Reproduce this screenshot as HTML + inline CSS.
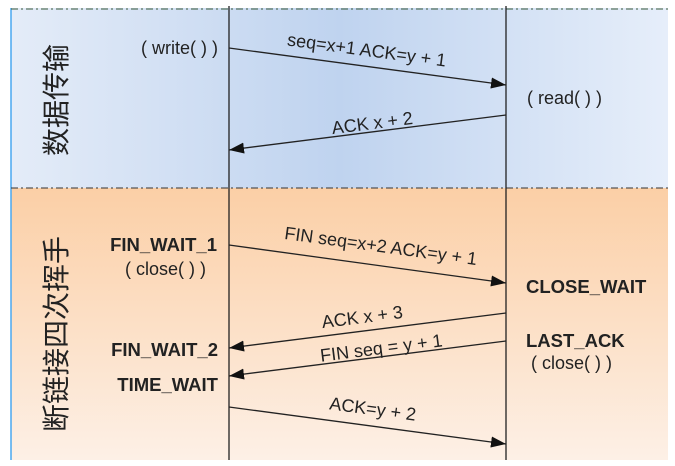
<!DOCTYPE html>
<html><head><meta charset="utf-8"><style>
html,body{margin:0;padding:0;background:#fff;}
svg{display:block;}
text{font-family:"Liberation Sans","Noto Sans CJK SC",sans-serif;fill:#222;}
</style></head><body>
<svg width="675" height="466" viewBox="0 0 675 466">
<defs>
<linearGradient id="bl" x1="0" y1="0" x2="1" y2="0">
<stop offset="0" stop-color="#e4ecf8"/><stop offset="0.5" stop-color="#bfd3ef"/><stop offset="1" stop-color="#e6eefa"/>
</linearGradient>
<linearGradient id="or" x1="0" y1="0" x2="0" y2="1">
<stop offset="0" stop-color="#fbcfa6"/><stop offset="1" stop-color="#fdf0e6"/>
</linearGradient>
<marker id="ah" markerWidth="15" markerHeight="11" refX="15" refY="5.5" orient="auto" markerUnits="userSpaceOnUse">
<path d="M0,0 L15,5.5 L0,11 z" fill="#111"/></marker>
</defs>
<rect x="11" y="8" width="657" height="180" fill="url(#bl)"/>
<rect x="11" y="188" width="657" height="272" fill="url(#or)"/>
<line x1="11" y1="8" x2="11" y2="460" stroke="#4aa8f0" stroke-width="1.5"/>
<line x1="11" y1="9" x2="668" y2="9" stroke="#3a5a3a" stroke-width="1" stroke-dasharray="7,3,2,3"/>
<line x1="11" y1="188" x2="668" y2="188" stroke="#333" stroke-width="1" stroke-dasharray="7,3,2,3"/>
<line x1="229" y1="6" x2="229" y2="460" stroke="#222" stroke-width="1.3"/>
<line x1="506" y1="6" x2="506" y2="460" stroke="#222" stroke-width="1.3"/>
<g stroke="#222" stroke-width="1.3" marker-end="url(#ah)">
<line x1="229" y1="48" x2="506" y2="85"/>
<line x1="506" y1="115" x2="229" y2="150"/>
<line x1="229" y1="245" x2="506" y2="283"/>
<line x1="506" y1="313" x2="229" y2="348"/>
<line x1="506" y1="341" x2="229" y2="376"/>
<line x1="229" y1="407" x2="506" y2="444"/>
</g>
<g font-size="18">
<text x="366" y="56" text-anchor="middle" transform="rotate(7.6 366 56)">seq=x+1 ACK=y + 1</text>
<text x="373" y="129" text-anchor="middle" transform="rotate(-7.2 373 129)">ACK x + 2</text>
<text x="380" y="252" text-anchor="middle" transform="rotate(7.8 380 252)">FIN seq=x+2 ACK=y + 1</text>
<text x="363" y="323" text-anchor="middle" transform="rotate(-7.2 363 323)">ACK x + 3</text>
<text x="382" y="354" text-anchor="middle" transform="rotate(-7.2 382 354)">FIN seq = y + 1</text>
<text x="372" y="415" text-anchor="middle" transform="rotate(7.6 372 415)">ACK=y + 2</text>
<text x="218" y="54" text-anchor="end">( write( ) )</text>
<text x="527" y="104">( read( ) )</text>
<text x="206" y="275" text-anchor="end">( close( ) )</text>
<text x="531" y="369">( close( ) )</text>
</g>
<g font-size="18.5" font-weight="bold">
<text x="217" y="251" text-anchor="end">FIN_WAIT_1</text>
<text x="218" y="356" text-anchor="end">FIN_WAIT_2</text>
<text x="218" y="391" text-anchor="end">TIME_WAIT</text>
<text x="526" y="293">CLOSE_WAIT</text>
<text x="526" y="347">LAST_ACK</text>
</g>
<g font-size="28">
<text x="0" y="0" text-anchor="middle" transform="translate(66 100) rotate(-90)">数据传输</text>
<text x="0" y="0" text-anchor="middle" transform="translate(66 334) rotate(-90)">断链接四次挥手</text>
</g>
</svg>
</body></html>
